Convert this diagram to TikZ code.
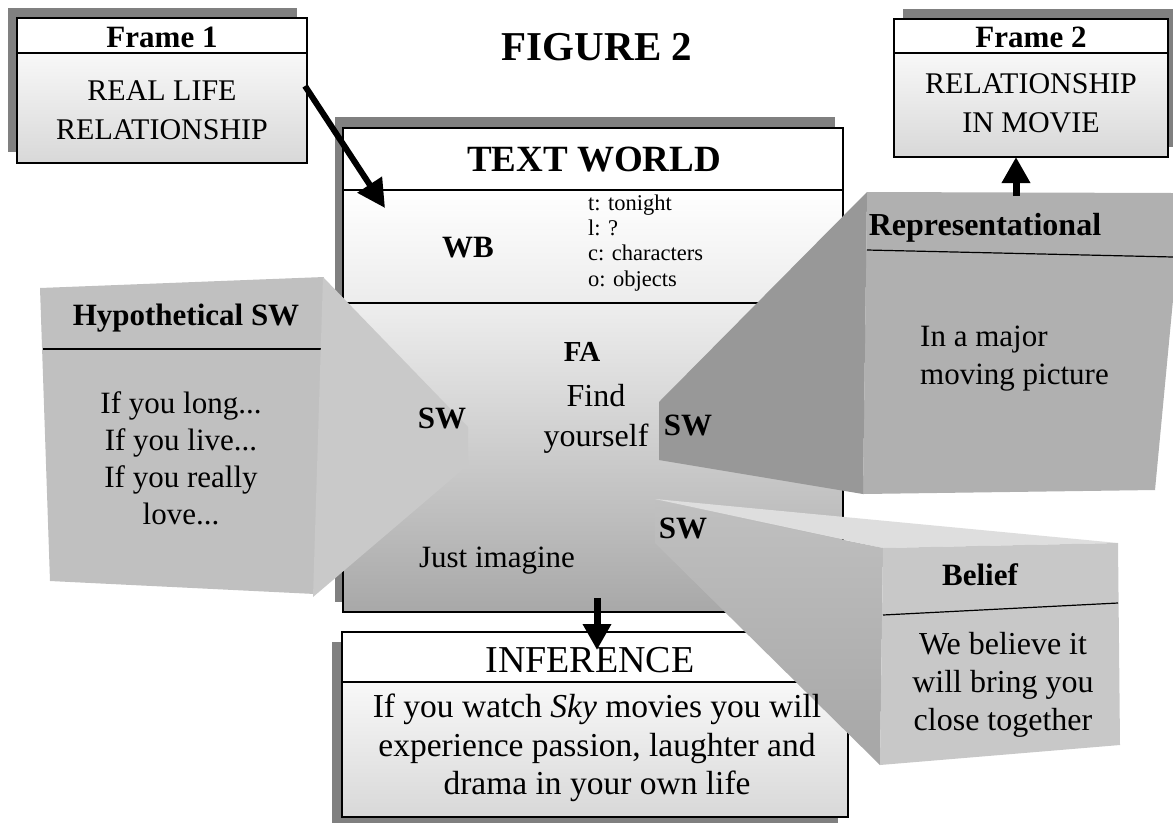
\documentclass[tikz,border=0pt]{standalone}
\usepackage{fontspec}
\setmainfont{Liberation Serif}
\usetikzlibrary{arrows.meta}
\definecolor{shadowgray}{RGB}{128,128,128}
\definecolor{frametop}{RGB}{248,248,248}
\definecolor{framebot}{RGB}{216,216,216}
\definecolor{twmid}{RGB}{236,236,236}
\definecolor{twlowtop}{RGB}{238,238,238}
\definecolor{twlowbot}{RGB}{168,168,168}
\definecolor{hypface}{RGB}{192,192,192}
\definecolor{hypside}{RGB}{201,201,201}
\definecolor{repface}{RGB}{176,176,176}
\definecolor{repside}{RGB}{152,152,152}
\definecolor{belface}{RGB}{200,200,200}
\definecolor{beltop}{RGB}{222,222,222}
\definecolor{belsidetop}{RGB}{192,192,192}
\definecolor{belsidebot}{RGB}{166,166,166}
\tikzset{
  hdr/.style={font=\fontsize{31}{34}\selectfont\bfseries, inner sep=0pt},
  bighdr/.style={font=\fontsize{37}{40}\selectfont\bfseries, inner sep=0pt},
  swlabel/.style={font=\fontsize{31}{36}\selectfont\bfseries, inner sep=0pt},
  bodytxt/.style={font=\fontsize{30}{39}\selectfont, align=center, inner sep=0pt},
  txt/.style={font=\fontsize{31}{38}\selectfont, align=center, inner sep=0pt},
  smalltxt/.style={font=\fontsize{22.5}{25.3}\selectfont, align=left, inner sep=0pt},
  boxline/.style={draw=black, line width=1.2pt},
  fatarrow/.style={line width=6pt, -{Triangle[width=28pt,length=28pt]}},
  vertarrow/.style={line width=7pt, -{Triangle[width=27pt,length=26pt]}},
}
\begin{document}
\begin{tikzpicture}[x=1pt,y=-1pt]
\useasboundingbox (0,0) rectangle (1173,823);
\fill[white] (0,0) rectangle (1173,823);

% ---------- Frame 1 ----------
\fill[shadowgray] (8,8) rectangle (297,152);
\fill[white] (17,18) rectangle (307,53);
\shade[top color=frametop, bottom color=framebot] (17,53) rectangle (307,163);
\draw[boxline] (17,18) rectangle (307,163);
\draw[boxline] (17,53) -- (307,53);
\node[hdr] (f1h) at (162,37) {Frame 1};
\node[bodytxt] (f1b) at (162,110) {REAL LIFE\\RELATIONSHIP};

% ---------- Frame 2 ----------
\fill[shadowgray] (903,9) rectangle (1178,147);
\fill[white] (894,19) rectangle (1168,53);
\shade[top color=frametop, bottom color=framebot] (894,53) rectangle (1168,157);
\draw[boxline] (894,19) rectangle (1168,157);
\draw[boxline] (894,53) -- (1168,53);
\node[hdr] (f2h) at (1031,37) {Frame 2};
\node[bodytxt] (f2b) at (1031,103) {RELATIONSHIP\\IN MOVIE};

% ---------- title ----------
\node[font=\fontsize{41}{44}\selectfont\bfseries, inner sep=0pt] (title) at (597,47) {FIGURE 2};

% ---------- Text world ----------
\fill[shadowgray] (335,117) rectangle (835,602);
\fill[white] (343,128) rectangle (843,190);
\shade[top color=white, bottom color=twmid] (343,190) rectangle (843,303);
\shade[top color=twlowtop, bottom color=twlowbot] (343,303) rectangle (843,612);
\draw[boxline] (343,128) rectangle (843,612);
\draw[boxline] (343,190) -- (843,190);
\draw[boxline] (343,303) -- (843,303);

% ---------- Inference ----------
\fill[shadowgray] (332,642) rectangle (838,823);
\fill[white] (342,632) rectangle (848,682);
\shade[top color=frametop, bottom color=framebot] (342,682) rectangle (848,817);
\draw[boxline] (342,632) rectangle (848,817);
\draw[boxline] (342,682) -- (848,682);

% ---------- Hypothetical SW ----------
\fill[hypface] (40,288) -- (324,277) -- (315,594) -- (50,581) -- cycle;
\draw[boxline] (43,349) -- (321,349);
\fill[hypside] (323,277) -- (468,427) -- (468,465) -- (313,597) -- cycle;

% ---------- Representational ----------
\fill[repface] (867,192) -- (1173,193) -- (1173,300) -- (1155,490) -- (863,494) -- cycle;
\fill[repside] (867,192) -- (659,402) -- (659,460) -- (863,494) -- cycle;
\draw[boxline] (867,250) -- (1173,257);

% ---------- Belief ----------
\fill[beltop] (655,499) -- (1118,543) -- (883,548) -- cycle;
\shade[top color=belsidetop, bottom color=belsidebot] (655,501) -- (883,548) -- (880,765) -- (655,543) -- cycle;
\fill[belface] (883,548) -- (1118,543) -- (1120,745) -- (880,765) -- cycle;
\draw[boxline] (883,615) -- (1118,603);

% ---------- texts ----------
\node[bighdr] (tw) at (594,160) {TEXT WORLD};
\node[swlabel] (wb) at (468,248) {WB};
\node[smalltxt, anchor=base west] (wblist) at (588,286) {t: tonight\\l: ?\\c: characters\\o: objects};
\node[font=\fontsize{29}{32}\selectfont\bfseries, inner sep=0pt] (fa) at (582,352) {FA};
\node[font=\fontsize{32}{40}\selectfont, align=center, inner sep=0pt] (find) at (596,419) {Find\\yourself};
\node[swlabel] (swl) at (442,418) {SW};
\node[swlabel] (swr) at (688,425) {SW};
\node[swlabel] (swb) at (683,528) {SW};
\node[txt] (just) at (497,561) {Just imagine};

\node[font=\fontsize{31}{36}\selectfont\bfseries, inner sep=0pt] (hyph) at (186,318) {Hypothetical SW};
\node[font=\fontsize{31}{37}\selectfont, align=center, inner sep=0pt] (hypb) at (181,458) {If you long...\\If you live...\\If you really\\love...};

\node[font=\fontsize{32}{36}\selectfont\bfseries, inner sep=0pt] (reph) at (985,228) {Representational};
\node[txt, align=left, anchor=west] (repb) at (920,359) {In a major\\moving picture};

\node[font=\fontsize{31}{36}\selectfont\bfseries, inner sep=0pt] (belh) at (980,575) {Belief};
\node[font=\fontsize{32}{38}\selectfont, align=center, inner sep=0pt] (belb) at (1003,685) {We believe it\\will bring you\\close together};

\node[font=\fontsize{38}{40}\selectfont, inner sep=0pt] (infh) at (590,660) {INFERENCE};
\node[font=\fontsize{33.5}{38.5}\selectfont, align=center, inner sep=0pt] (infb) at (597,748) {If you watch \textit{Sky} movies you will\\experience passion, laughter and\\drama in your own life};

% ---------- arrows ----------
\coordinate (a1s) at (305,86);
\coordinate (a1e) at (385,208);
\draw[fatarrow] (a1s) -- (a1e);
\coordinate (a2s) at (1016,196);
\coordinate (a2e) at (1016,157);
\draw[vertarrow] (a2s) -- (a2e);
\coordinate (a3s) at (597,598);
\coordinate (a3e) at (597,650);
\draw[vertarrow] (a3s) -- (a3e);
\end{tikzpicture}
\end{document}
